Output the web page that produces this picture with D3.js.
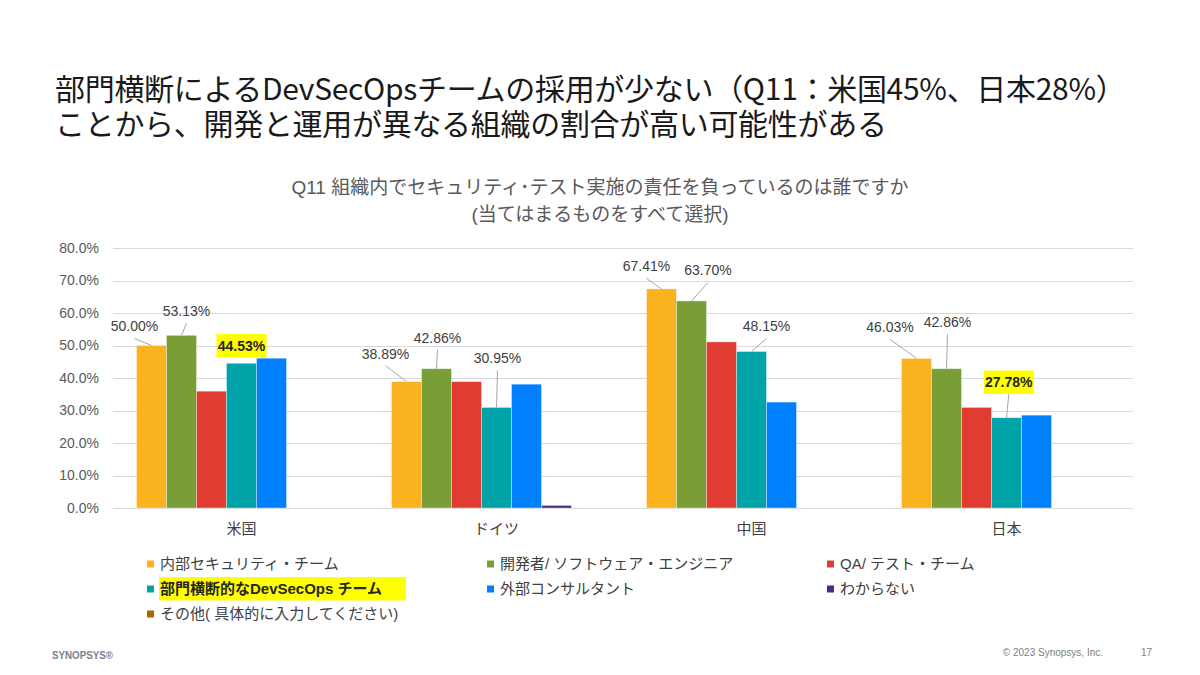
<!DOCTYPE html>
<html>
<head>
<meta charset="utf-8">
<script src="https://cdn.jsdelivr.net/npm/d3@7"></script>
<style>
  html, body { margin: 0; padding: 0; background: #ffffff; }
  #chart { position: relative; width: 1200px; height: 675px; }
  svg { display: block; }
</style>
</head>
<body>
<div id="chart"></div>
<script>
// ---------------- DATA ----------------
const titleLines = [
  "部門横断によるDevSecOpsチームの採用が少ない（Q11：米国45%、日本28%）",
  "ことから、開発と運用が異なる組織の割合が高い可能性がある"
];
const chartTitleLines = [
  "Q11 組織内でセキュリティ･テスト実施の責任を負っているのは誰ですか",
  "(当てはまるものをすべて選択)"
];
const categories = ["米国", "ドイツ", "中国", "日本"];
const seriesNames = [
  "内部セキュリティ・チーム",
  "開発者/ ソフトウェア・エンジニア",
  "QA/ テスト・チーム",
  "部門横断的なDevSecOps チーム",
  "外部コンサルタント",
  "わからない",
  "その他( 具体的に入力してください)"
];
const internalTeam = [50.00, 38.89, 67.41, 46.03];
const developers   = [53.13, 42.86, 63.70, 42.86];
const qaTeam       = [35.94, 38.89, 51.11, 30.95];
const devSecOps    = [44.53, 30.95, 48.15, 27.78];
const consultants  = [46.09, 38.10, 32.59, 28.57];
const unknown      = [0.00, 0.79, 0.00, 0.00];
const other        = [0.00, 0.00, 0.00, 0.00];
const yTicks = [0, 10, 20, 30, 40, 50, 60, 70, 80];
const highlightSeries = 3;
const highlightCategories = ["米国", "日本"];

// ---------------- STYLE / LAYOUT ----------------
const colors = ["#FBB21F", "#7A9E36", "#E03C31", "#00A3A8", "#0080FF", "#4B2A7F", "#A36A00"];
// data label placement: series index, category index, offset (px) of label centre from bar top-centre
const labelLayout = [
  {s: 0, c: 0, dx: -17, dy: -19}, {s: 1, c: 0, dx: 5, dy: -24}, {s: 3, c: 0, dx: 0, dy: -17.5, noLine: true},
  {s: 0, c: 1, dx: -21, dy: -28}, {s: 1, c: 1, dx: 1, dy: -31}, {s: 3, c: 1, dx: 1, dy: -49},
  {s: 0, c: 2, dx: -15, dy: -22.5}, {s: 1, c: 2, dx: 16.5, dy: -30.5}, {s: 3, c: 2, dx: 15, dy: -25},
  {s: 0, c: 3, dx: -26.5, dy: -31}, {s: 1, c: 3, dx: 1, dy: -46.5}, {s: 3, c: 3, dx: 2.3, dy: -35.5}
];

const seriesValues = [internalTeam, developers, qaTeam, devSecOps, consultants, unknown, other];

const W = 1200, H = 675;
const root = d3.select("#chart");
const svg = root.append("svg").attr("width", W).attr("height", H)
  .style("background", "#ffffff");

const jpFont = "'Noto Sans CJK JP', 'Noto Sans', sans-serif";
const chartFont = "'Liberation Sans', Arial, 'Noto Sans CJK JP', sans-serif";
const narrowFont = "'Liberation Sans Narrow', 'Liberation Sans', sans-serif";

// ---------------- MAIN TITLE (one text block, two lines) ----------------
root.append("div")
  .style("position", "absolute")
  .style("left", "55px")
  .style("top", "70.4px")
  .style("font-family", jpFont)
  .style("font-size", "30px")
  .style("line-height", "35px")
  .style("letter-spacing", "-0.3px")
  .style("white-space", "pre")
  .style("color", "#1a1a1a")
  .text(titleLines.join("\n"));

// ---------------- CHART TITLE ----------------
svg.append("text")
  .attr("text-anchor", "middle")
  .attr("font-family", chartFont)
  .attr("font-size", 19)
  .attr("fill", "#595959")
  .selectAll("tspan").data(chartTitleLines).join("tspan")
  .attr("x", 600)
  .attr("y", (d, i) => 193.5 + i * 27)
  .text(d => d);

// ---------------- SCALES ----------------
const plotLeft = 114, plotRight = 1134;
const y = d3.scaleLinear().domain([0, 80]).range([508, 248]);
const pad = 45 / 255;
const x0 = d3.scaleBand().domain(categories).range([plotLeft, plotRight])
  .paddingInner(pad).paddingOuter(pad / 2);
const x1 = d3.scaleBand().domain(d3.range(seriesNames.length)).range([0, x0.bandwidth()]);

// gridlines
const grid = svg.append("g");
grid.selectAll("line").data(yTicks).join("line")
  .attr("x1", plotLeft - 1).attr("x2", plotRight - 1)
  .attr("y1", d => Math.round(y(d)) + 0.5).attr("y2", d => Math.round(y(d)) + 0.5)
  .attr("stroke", "#d9d9d9").attr("stroke-width", 1);

// y axis labels (d3 axis, domain hidden)
const yAxis = svg.append("g").attr("transform", `translate(${plotLeft},0)`)
  .call(d3.axisLeft(y).tickValues(yTicks).tickSize(0).tickPadding(15)
    .tickFormat(d => d.toFixed(1) + "%"));
yAxis.select(".domain").remove();
yAxis.selectAll("text")
  .attr("font-family", chartFont).attr("font-size", 14).attr("fill", "#595959");

// x axis labels
const xAxis = svg.append("g").attr("transform", `translate(0,${y(0)})`)
  .call(d3.axisBottom(x0).tickSize(0).tickPadding(15));
xAxis.select(".domain").remove();
xAxis.selectAll("text")
  .attr("font-family", chartFont).attr("font-size", 15).attr("fill", "#404040");

// ---------------- BARS ----------------
const groups = svg.append("g").selectAll("g").data(categories).join("g")
  .attr("transform", d => `translate(${x0(d)},0)`);
groups.selectAll("rect")
  .data((cat, ci) => seriesValues.map((vals, si) => ({si, ci, v: vals[ci]})))
  .join("rect")
  .attr("x", d => x1(d.si))
  .attr("width", x1.bandwidth())
  .attr("y", d => y(d.v))
  .attr("height", d => y(0) - y(d.v))
  .attr("fill", d => colors[d.si])
  .attr("stroke", "#ffffff").attr("stroke-opacity", 0.45).attr("stroke-width", 0.8);

// ---------------- DATA LABELS ----------------
const lblG = svg.append("g");
labelLayout.forEach(L => {
  const v = seriesValues[L.s][L.c];
  const bx = x0(categories[L.c]) + x1(L.s) + x1.bandwidth() / 2;
  const by = y(v);
  const lx = bx + L.dx, ly = by + L.dy;
  const hl = L.s === highlightSeries && highlightCategories.includes(categories[L.c]);
  if (!L.noLine) {
    lblG.append("line")
      .attr("x1", lx).attr("y1", ly + 12)
      .attr("x2", bx).attr("y2", by)
      .attr("stroke", "#a6a6a6").attr("stroke-width", 1);
  }
  if (hl) {
    lblG.append("rect")
      .attr("x", lx - 25).attr("y", ly - 11.7)
      .attr("width", 50).attr("height", 23.4)
      .attr("fill", "#FFFF00");
  }
  lblG.append("text")
    .attr("x", lx).attr("y", ly).attr("dy", "0.35em")
    .attr("text-anchor", "middle")
    .attr("font-family", chartFont)
    .attr("font-size", 14)
    .attr("font-weight", hl ? "bold" : "normal")
    .attr("fill", hl ? "#262626" : "#404040")
    .text(v.toFixed(2) + "%");
});

// ---------------- LEGEND ----------------
const legendCols = [147, 487, 827];
const legendRows = [564, 589, 614];
const leg = svg.append("g").selectAll("g").data(seriesNames).join("g")
  .attr("transform", (d, i) => `translate(${legendCols[i % 3]},${legendRows[Math.floor(i / 3)]})`);
leg.each(function(d, i) {
  const g = d3.select(this);
  if (i === highlightSeries) {
    g.append("rect").attr("x", 12).attr("y", -12).attr("width", 247).attr("height", 23.5)
      .attr("fill", "#FFFF00");
  }
  g.append("rect").attr("x", 0).attr("y", -3.5).attr("width", 7).attr("height", 7)
    .attr("fill", colors[i]);
  g.append("text").attr("x", 13).attr("y", 0).attr("dy", "0.35em")
    .attr("font-family", chartFont)
    .attr("font-size", 15)
    .attr("font-weight", i === highlightSeries ? "bold" : "normal")
    .attr("fill", i === highlightSeries ? "#262626" : "#404040")
    .text(d);
});

// ---------------- FOOTER ----------------
svg.append("text").attr("x", 52).attr("y", 659)
  .attr("font-family", narrowFont)
  .attr("font-weight", "bold")
  .attr("font-size", 11.5)
  .attr("fill", "#7a7f8a")
  .attr("textLength", 61).attr("lengthAdjust", "spacingAndGlyphs")
  .text("SYNOPSYS®");
svg.append("text").attr("x", 1103).attr("y", 655.5).attr("text-anchor", "end")
  .attr("font-family", narrowFont)
  .attr("font-size", 10).attr("fill", "#808080")
  .text("© 2023 Synopsys, Inc.");
svg.append("text").attr("x", 1141).attr("y", 655.5)
  .attr("font-family", narrowFont)
  .attr("font-size", 10).attr("fill", "#808080")
  .text("17");
</script>
</body>
</html>
